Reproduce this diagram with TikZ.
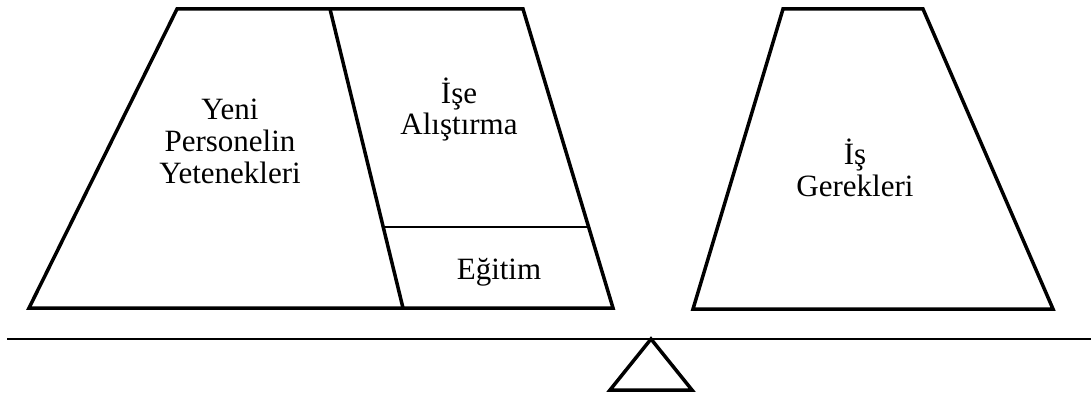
\documentclass[tikz,border=0pt]{standalone}
\usepackage{fontspec}
\setmainfont{Liberation Serif}
\usetikzlibrary{calc}
\begin{document}
\begin{tikzpicture}[x=1pt,y=-1pt,
  heavy/.style={line width=3.5pt,line join=miter},
  light/.style={line width=2.5pt},
  lbl/.style={font=\fontsize{31}{32}\selectfont,align=center,inner sep=0pt,anchor=base}]
\useasboundingbox (0,0) rectangle (1091,393);
% left block
\coordinate (LTL) at (177,9);
\coordinate (LTR) at (523,9);
\coordinate (LBR) at (613,308);
\coordinate (LBL) at (29,308);
\coordinate (DT) at (330,9);
\coordinate (DB) at (403,308);
\draw[heavy] (LTL) -- (LTR) -- (LBR) -- (LBL) -- cycle;
\draw[heavy] (DT) -- (DB);
\draw[light] ($(DT)!0.729!(DB)$) coordinate (HL) -- ($(LTR)!0.729!(LBR)$) coordinate (HR);
% right block
\coordinate (RTL) at (783,9);
\coordinate (RTR) at (923,9);
\coordinate (RBR) at (1053,309);
\coordinate (RBL) at (693,309);
\draw[heavy] (RTL) -- (RTR) -- (RBR) -- (RBL) -- cycle;
% balance beam and fulcrum
\coordinate (BL) at (7,339);
\coordinate (BR) at (1091,339);
\draw[light] (BL) -- (BR);
\coordinate (FA) at (651,339);
\coordinate (FL) at (610,390);
\coordinate (FR) at (692,390);
\draw[heavy] (FA) -- (FL) -- (FR) -- cycle;
% labels (anchor = baseline of last line)
\node[lbl] (yeni) at (230,183) {Yeni\\Personelin\\Yetenekleri};
\node[lbl] (ise) at (459,135) {İşe\\Alıştırma};
\node[lbl] (egitim) at (499,279) {Eğitim};
\node[lbl] (is) at (855,196) {İş\\Gerekleri};
\end{tikzpicture}
\end{document}
